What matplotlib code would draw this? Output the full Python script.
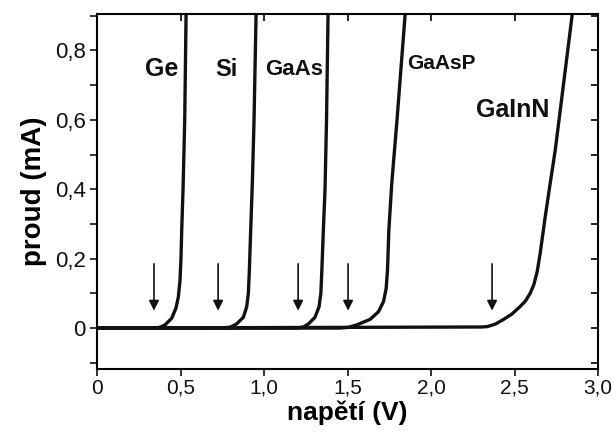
import matplotlib.pyplot as plt
from matplotlib.ticker import FuncFormatter, MultipleLocator

plt.rcParams['font.family'] = ['Liberation Sans', 'DejaVu Sans']

# Odečtené body V-A charakteristik (napětí V, proud mA)
ge_u = [0.0, 0.34, 0.375, 0.407, 0.447, 0.473, 0.487, 0.497, 0.503, 0.507, 0.515, 0.525, 0.533, 0.54]
ge_i = [0.0, 0.0, 0.002, 0.009, 0.028, 0.058, 0.09, 0.138, 0.205, 0.282, 0.4, 0.6, 0.9, 1.0]

si_u = [0.0, 0.756, 0.80, 0.836, 0.876, 0.896, 0.906, 0.912, 0.920, 0.93, 0.94, 0.952, 0.96]
si_i = [0.0, 0.0, 0.003, 0.012, 0.031, 0.061, 0.10, 0.167, 0.282, 0.42, 0.6, 0.9, 1.0]

gaas_u = [0.0, 1.196, 1.235, 1.266, 1.305, 1.329, 1.34, 1.346, 1.355, 1.365, 1.374, 1.383, 1.39]
gaas_i = [0.0, 0.0, 0.003, 0.012, 0.031, 0.061, 0.10, 0.167, 0.282, 0.4, 0.6, 0.9, 1.0]

gaasp_u = [0.0, 1.455, 1.505, 1.555, 1.635, 1.685, 1.715, 1.731, 1.739, 1.747, 1.765, 1.796, 1.844, 1.86]
gaasp_i = [0.0, 0.0, 0.002, 0.009, 0.025, 0.047, 0.076, 0.114, 0.167, 0.282, 0.42, 0.6, 0.9, 1.0]

gainn_u = [0.0, 2.30, 2.335, 2.383, 2.431, 2.483, 2.533, 2.565, 2.593, 2.615, 2.635, 2.653, 2.683, 2.713, 2.743, 2.766, 2.844, 2.87]
gainn_i = [0.0, 0.003, 0.004, 0.011, 0.024, 0.040, 0.062, 0.078, 0.10, 0.125, 0.162, 0.215, 0.32, 0.417, 0.512, 0.6, 0.9, 1.0]

# šipky (prahová napětí)
sipky_u = [0.341, 0.725, 1.204, 1.503, 2.365]

# popisky
popisky = ['Ge', 'Si', 'GaAs', 'GaAsP', 'GaInN']
popisky_u = [0.485, 0.844, 1.006, 1.856, 2.71]
popisky_i = [0.745, 0.745, 0.745, 0.763, 0.627]
popisky_ha = ['right', 'right', 'left', 'left', 'right']
popisky_size = [18, 17, 16, 15, 18]

fig = plt.figure(figsize=(6.16, 4.36), dpi=100)
ax = fig.add_axes([0.1575, 0.1537, 0.8135, 0.8143])

for u, i in [(ge_u, ge_i), (si_u, si_i), (gaas_u, gaas_i), (gaasp_u, gaasp_i), (gainn_u, gainn_i)]:
    ax.plot(u, i, color='#111111', lw=2.4, solid_joinstyle='round', solid_capstyle='butt')

for u in sipky_u:
    ax.annotate('', xy=(u, 0.05), xytext=(u, 0.185),
                arrowprops=dict(arrowstyle='-|>', color='#111111', lw=1.2,
                                mutation_scale=15, shrinkA=0, shrinkB=0))

for t, u, i, ha, fs in zip(popisky, popisky_u, popisky_i, popisky_ha, popisky_size):
    ax.text(u, i, t, ha=ha, va='center', fontsize=fs, fontweight='bold', color='#111111')

ax.set_xlim(0, 3.0)
ax.set_ylim(-0.118, 0.905)

ax.xaxis.set_major_locator(MultipleLocator(0.5))
ax.yaxis.set_major_locator(MultipleLocator(0.2))
ax.yaxis.set_minor_locator(MultipleLocator(0.1))


def carka(v, pos):
    if abs(v) < 1e-9:
        return '0'
    return f'{v:.1f}'.replace('.', ',')


ax.xaxis.set_major_formatter(FuncFormatter(carka))
ax.yaxis.set_major_formatter(FuncFormatter(carka))

ax.tick_params(axis='both', which='both', direction='out', length=5, width=1.2,
               labelsize=16, colors='#111111')
ax.tick_params(axis='y', which='major', pad=3)
ax.tick_params(axis='x', which='major', labelsize=15, pad=2)

# vnitřní značky nahoře a vpravo
sec_x = ax.secondary_xaxis('top')
sec_x.xaxis.set_major_locator(MultipleLocator(0.5))
sec_x.tick_params(direction='in', length=5, width=1.2, labeltop=False)
sec_y = ax.secondary_yaxis('right')
sec_y.yaxis.set_major_locator(MultipleLocator(0.1))
sec_y.tick_params(direction='in', length=5, width=1.2, labelright=False)

for s in ax.spines.values():
    s.set_linewidth(1.5)
sec_x.spines['top'].set_visible(False)
sec_y.spines['right'].set_visible(False)

ax.set_xlabel('napětí (V)', fontsize=19, fontweight='bold', labelpad=2)
ax.set_ylabel('proud (mA)', fontsize=20, fontweight='bold', labelpad=6)

fig.savefig('out.png', dpi=100)
